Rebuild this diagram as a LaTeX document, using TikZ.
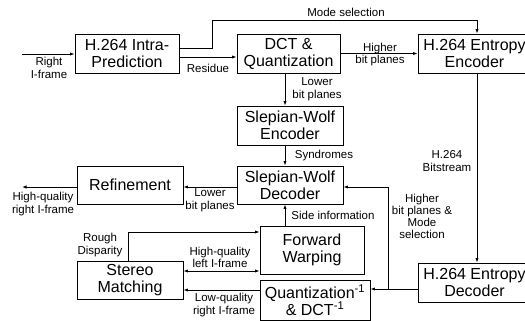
\documentclass[tikz,border=0pt]{standalone}
\usepackage{fontspec}
\setmainfont{Liberation Sans}
\usetikzlibrary{arrows.meta}
\begin{document}
\begin{tikzpicture}[x=1pt,y=-1pt,
  blk/.style={draw=black,line width=0.9pt,inner sep=0pt,align=center,
              font=\fontsize{16}{17}\selectfont},
  lbl/.style={inner sep=0pt,align=center,font=\fontsize{11.5}{12.5}\selectfont},
  tip/.tip={Latex[length=4.5pt,width=3.2pt]},
  arr/.style={line width=0.8pt,-tip},
  darr/.style={line width=0.8pt,tip-tip}]
\useasboundingbox (0,0) rectangle (525,321);
\clip (0,0) rectangle (525,321);

% processing blocks
\node[blk,minimum width=104pt,minimum height=39pt] (intra) at (127,53.5) {H.264 Intra-\\Prediction};
\node[blk,minimum width=103pt,minimum height=39pt] (dct) at (288.5,53.5) {DCT \&\\Quantization};
\node[blk,minimum width=113pt,minimum height=39pt] (enc) at (474.5,53.5) {H.264 Entropy\\Encoder};
\node[blk,minimum width=106pt,minimum height=39pt] (swe) at (290,125.5) {Slepian-Wolf\\Encoder};
\node[blk,minimum width=106pt,minimum height=38pt] (swd) at (290,185) {Slepian-Wolf\\Decoder};
\node[blk,minimum width=106pt,minimum height=38pt] (ref) at (130,185) {Refinement};
\node[blk,minimum width=104pt,minimum height=48pt] (fw) at (312,250) {Forward\\Warping};
\node[blk,minimum width=106pt,minimum height=38pt] (sm) at (130,280) {Stereo\\Matching};
\node[blk,minimum width=110pt,minimum height=40pt] (q) at (315,300) {Quantization\textsuperscript{-1}\\\& DCT\textsuperscript{-1}};
\node[blk,minimum width=113pt,minimum height=39pt] (dec) at (474.5,282.5) {H.264 Entropy\\Decoder};

% routing coordinates
\coordinate (colC) at (285,0);
\coordinate (colE) at (477,0);
\coordinate (m1) at (212,20);
\coordinate (inR) at (22,54);
\coordinate (outL) at (22,187);
\coordinate (jn) at (388,289);
\coordinate (lq) at (0,290);
\coordinate (hq) at (0,271);
\coordinate (rd) at (128,232);

% connectors
\draw[arr] (inR) -- (inR -| intra.west);
\draw[arr] ([yshift=-3.5pt]intra.east) -- ([yshift=-3.5pt]intra.east -| dct.west);
\draw[arr] ([yshift=5.5pt]intra.east) -| (m1) -| (enc.north -| colE);
\draw[arr] (dct.east) -- (enc.west);
\draw[arr] (dct.south -| colC) -- (swe.north -| colC);
\draw[arr] (swe.south -| colC) -- (swd.north -| colC);
\draw[arr] (fw.north -| colC) -- (swd.south -| colC);
\draw[arr] ([yshift=-2pt]swd.west) -- ([yshift=-2pt]swd.west -| ref.east);
\draw[arr] (ref.west |- outL) -- (outL);
\draw[arr] (enc.south -| colE) -- (dec.north -| colE);
\draw[arr] (dec.west |- jn) -- (jn -| q.east);
\draw[arr] (jn) |- ([yshift=-2pt]swd.east);
\draw[arr] (q.west |- lq) -- (sm.east |- lq);
\draw[darr] (sm.east |- hq) -- (fw.west |- hq);
\draw[arr] (sm.north -| rd) -- (rd) -- (rd -| fw.west);

% connector labels
\node[lbl] (l1) at (49,68) {Right\\I-frame};
\node[lbl] (l2) at (208,68) {Residue};
\node[lbl] (l3) at (346,12) {Mode selection};
\node[lbl] (l4) at (380,54.5) {Higher\\bit planes};
\node[lbl] (l5) at (317,89) {Lower\\bit planes};
\node[lbl] (l6) at (324,156) {Syndromes};
\node[lbl] (l7) at (447,161) {H.264\\Bitstream};
\node[lbl] (l8) at (210,200) {Lower\\bit planes};
\node[lbl] (l9) at (43,204) {High-quality\\right I-frame};
\node[lbl] (l10) at (333,215) {Side information};
\node[lbl,font=\fontsize{11.5}{12}\selectfont] (l11) at (422,216) {Higher\\bit planes \&\\Mode\\selection};
\node[lbl] (l12) at (100,245) {Rough\\Disparity};
\node[lbl] (l13) at (220,257.5) {High-quality\\left I-frame};
\node[lbl] (l14) at (224,305) {Low-quality\\right I-frame};
\end{tikzpicture}
\end{document}
